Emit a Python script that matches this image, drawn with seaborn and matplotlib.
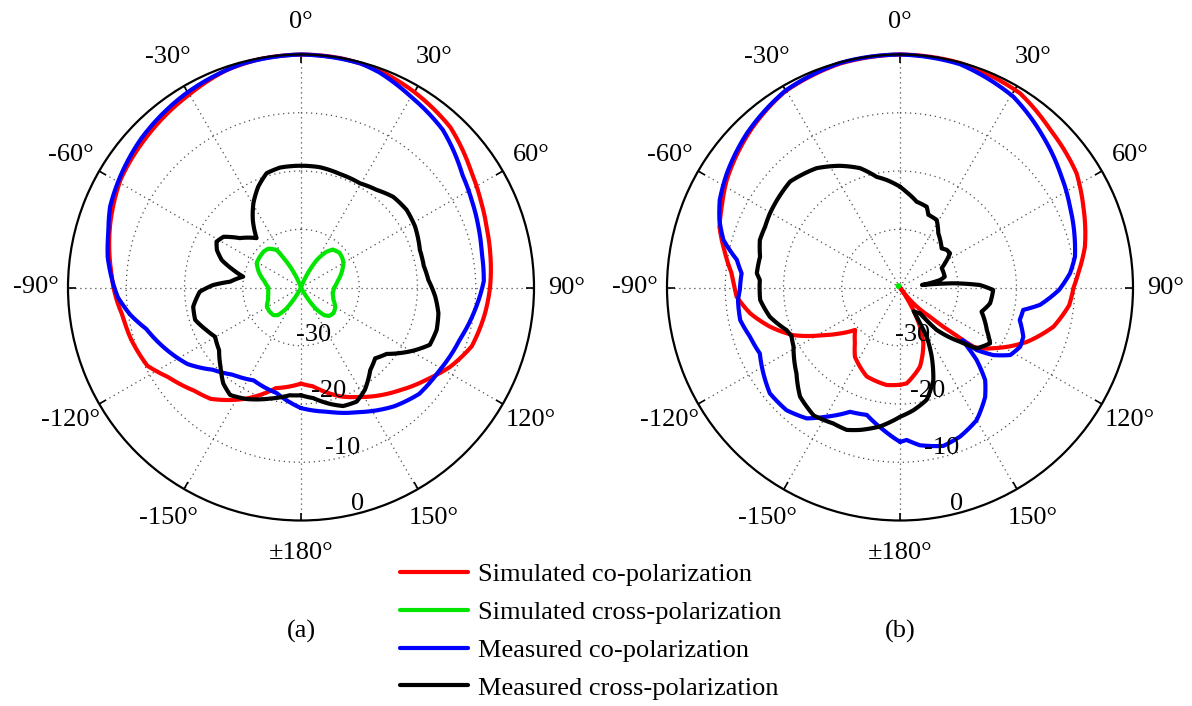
import numpy as np
import matplotlib
matplotlib.use("Agg")
import matplotlib.pyplot as plt
from matplotlib.lines import Line2D
import seaborn as sns

# ---------------------------------------------------------------------------
# Radiation patterns (angle in degrees, clockwise from broadside; level in dB)
# ---------------------------------------------------------------------------

# (a) simulated co-polarization
a_sim_co_deg = [-180, -166, -154, -141, -134, -124, -117, -107, -99, -94, -90, -86, -80,
                -71, -59, -46, -31, -19, -10, 0, 10, 20, 30, 43, 56, 64, 72, 80, 90,
                98, 109, 118, 126, 136, 152, 160, 173, 180]
a_sim_co_db = [-23.5, -22.2, -18.8, -15.4, -14.5, -12.5, -10.4, -9.5, -9.0, -8.3, -7.8,
               -7.4, -6.6, -5.4, -3.9, -3.0, -1.8, -0.55, -0.15, 0.0, -0.05, -0.4, -1.2,
               -2.4, -4.7, -5.7, -6.5, -7.0, -7.55, -8.1, -9.0, -11.0, -13.2, -15.5,
               -18.7, -20.1, -22.9, -23.5]

# (a) simulated cross-polarization
a_sim_x_deg = [-180, -153, -150, -145, -140, -135, -127, -119, -110, -100, -90, -80, -70,
               -61, -55, -46, -40, -33, -30, -25, -21, 0, 21, 25, 30, 35, 40, 48, 55,
               60, 70, 80, 90, 100, 110, 120, 128, 135, 140, 145, 150, 153, 180]
a_sim_x_db = [-40, -40, -38.5, -35.5, -33.8, -33.3, -33.2, -33.3, -34.0, -34.3, -34.4,
              -33.6, -32.3, -31.3, -31.2, -31.1, -31.3, -32.3, -34.5, -37.5, -40, -40,
              -40, -37.5, -34.5, -32.6, -31.5, -31.1, -31.3, -31.6, -32.6, -33.6, -34.3,
              -34.5, -34.1, -33.2, -32.9, -33.1, -33.8, -35.5, -38.5, -40, -40]

# (a) measured co-polarization
a_meas_co_deg = [-180, -167, -153, -142, -133, -124, -115, -105, -99, -93, -88, -81, -74,
                 -67, -47, -31, -15, 0, 15, 20, 30, 42, 55, 63, 71, 79, 88, 96, 108,
                 121, 132, 142, 155, 168, 180]
a_meas_co_db = [-19.3, -21.4, -22.1, -21.0, -19.3, -16.5, -14.6, -12.5, -10.3, -8.5,
                -7.6, -6.4, -5.6, -4.4, -2.5, -1.3, -0.3, 0.0, -0.2, -0.7, -2.2, -3.6,
                -6.2, -7.1, -7.8, -8.4, -8.6, -9.7, -11.3, -12.3, -12.7, -14.1, -16.4,
                -18.2, -19.3]

# (a) measured cross-polarization
a_meas_x_deg = [-180, -174, -164.4, -154, -146.6, -141, -134.6, -127.4, -119.8, -114.3,
                -107, -100.1, -92.4, -88.4, -85.3, -79.4, -75.5, -70.9, -66, -61.5,
                -56.8, -51.1, -42, -35.6, -29.5, -23, -16.7, -9.9, 0, 9, 19, 29.5,
                37.8, 45.5, 53.7, 61.9, 72.5, 80, 86.6, 93.9, 100.6, 107.4, 114,
                119.4, 127.8, 133.7, 140, 148, 154, 160.4, 166, 173.7, 180]
a_meas_x_db = [-21.5, -21.4, -20.2, -18.7, -17.9, -18.8, -20.6, -22.3, -23.0, -22.2,
               -21.0, -21.2, -22.6, -24.9, -27.8, -29.9, -28.0, -25.6, -24.2, -23.5,
               -24.1, -26.5, -28.6, -25.8, -23.4, -21.2, -19.5, -19.1, -19.1, -19.1,
               -19.4, -19.45, -18.8, -17.8, -17.5, -17.8, -18.6, -18.6, -18.1, -16.9,
               -16.0, -15.6, -15.8, -17.9, -21.4, -22.4, -21.5, -19.3, -18.2, -18.4,
               -19.4, -20.9, -21.5]

# (b) simulated co-polarization
b_sim_co_deg = [-180, -172.2, -159.5, -147, -141, -133.4, -127.4, -121.8, -114, -106.8,
                -99.8, -93.2, -90, -85.2, -78.9, -71.4, -65.6, -58.2, -42.4, -30.6, -15,
                0, 15, 31.7, 43.6, 57.1, 66.2, 77.6, 85.4, 90, 96, 104.3, 113.2, 123.1,
                127.2, 128.9, 130.7, 134.2, 139.9, 145, 149.4, 153, 157.3, 165.8, 176,
                180]
b_sim_co_db = [-23.3, -23.1, -23.7, -25.8, -27.7, -29.4, -27.0, -24.5, -19.9, -16.7,
               -13.9, -11.9, -11.6, -11.0, -9.4, -7.3, -6.4, -5.0, -2.6, -1.0, -0.2,
               0.0, -0.1, -0.8, -2.6, -3.9, -5.6, -7.5, -9.3, -10.2, -10.8, -12.8,
               -16.3, -20.9, -22.7, -23.8, -27.9, -32.8, -36.4, -40, -35.5, -32.4,
               -29.6, -26.0, -23.5, -23.3]

# (b) simulated cross-polarization (below the -40 dB floor almost everywhere)
b_sim_x_deg = [-75, -60, -45, -30, -15]
b_sim_x_db = [-39.7, -39.55, -39.5, -39.55, -39.7]

# (b) measured co-polarization
b_meas_co_deg = [-180, -173.3, -165.4, -158.1, -150.4, -144.5, -137.2, -129.1, -122.1,
                 -115.2, -108.2, -101.5, -94.4, -90.9, -84.9, -80.4, -74.9, -69.5,
                 -64.1, -56.6, -44.8, -30.2, -15, 0, 15, 30.7, 43.5, 54.5, 64.6, 74.8,
                 80, 85.2, 90.9, 97.1, 100.3, 105.2, 111.8, 116.3, 121.5, 125.9, 129.2,
                 130.2, 133.4, 137.4, 142.1, 150, 158.1, 164.7, 172.8, 177.5, 180]
b_meas_co_db = [-13.5, -15.4, -17.4, -17.0, -14.5, -12.4, -11.3, -11.2, -12.3, -13.4,
                -12.9, -12.0, -12.1, -12.5, -12.7, -11.6, -8.6, -6.9, -5.6, -4.4, -2.7,
                -0.9, -0.1, 0.0, -0.3, -1.9, -4.3, -6.2, -7.7, -8.9, -9.5, -10.7, -12.7,
                -15.8, -18.5, -18.7, -17.2, -17.0, -17.8, -20.2, -23.0, -26.0, -21.9,
                -18.4, -16.2, -13.7, -12.4, -11.8, -12.7, -13.8, -13.5]

# (b) measured cross-polarization, traced clockwise from 0 to 360 degrees
b_meas_x_deg = [0, 4, 11, 18.3, 21.3, 28.5, 35.2, 40.1, 46.8, 51.2, 55.6, 60, 65, 76.5,
                79.4, 83.5, 85.5, 88.2, 91.5, 100, 106.5, 116.1, 121.8, 128.4, 132.1,
                139.2, 142.2, 150, 151.5, 155.4, 160.2, 166.6, 173.8, 180, 188.2, 195.7,
                200.5, 206.2, 214, 222.5, 230.3, 241, 246, 249.4, 257.3, 264.9, 273.1,
                275.7, 282.4, 288.7, 294.2, 299.7, 302.5, 314, 325, 333.7, 341.5, 348.1,
                352.9, 360]
b_meas_x_db = [-22.7, -23.6, -25.0, -25.4, -26.6, -26.8, -28.6, -29.3, -30.2, -29.7,
               -29.6, -30.8, -32.1, -32.1, -33.0, -36.2, -30.8, -26.3, -24.0, -24.3,
               -25.4, -23.4, -21.8, -23.2, -26.1, -30.4, -34.4, -35.3, -30.4, -26.9,
               -23.1, -20.2, -18.8, -17.8, -15.9, -14.6, -13.9, -14.0, -13.5, -14.6,
               -16.9, -19.1, -19.6, -19.2, -17.1, -15.9, -15.9, -15.3, -15.4, -14.6,
               -14.6, -14.3, -14.2, -13.8, -15.0, -16.7, -18.4, -20.6, -21.4, -22.7]

series_names = ["Simulated co-polarization", "Simulated cross-polarization",
                "Measured co-polarization", "Measured cross-polarization"]
series_colors = ["#ff0000", "#00e600", "#0000ff", "#000000"]

panel_a = [(a_sim_co_deg, a_sim_co_db), (a_sim_x_deg, a_sim_x_db),
           (a_meas_co_deg, a_meas_co_db), (a_meas_x_deg, a_meas_x_db)]
panel_b = [(b_sim_co_deg, b_sim_co_db), (b_sim_x_deg, b_sim_x_db),
           (b_meas_co_deg, b_meas_co_db), (b_meas_x_deg, b_meas_x_db)]

theta_ticks = [0, 30, 60, 90, 120, 150, 180, -150, -120, -90, -60, -30]
theta_labels = ["0°", "30°", "60°", "90°", "120°", "150°", "±180°",
                "-150°", "-120°", "-90°", "-60°", "-30°"]
r_ticks = [-30, -20, -10, 0]
r_labels = ["-30", "-20", "-10", "0"]
panel_tags = ["(a)", "(b)"]

# ---------------------------------------------------------------------------
sns.set_theme(style="white")
plt.rcParams["font.family"] = ["Liberation Serif", "DejaVu Serif"]
plt.rcParams["text.color"] = "black"
plt.rcParams["axes.labelcolor"] = "black"
FS = 19
W, H = 1192, 706

fig = plt.figure(figsize=(W / 100, H / 100), dpi=100)
fig.patch.set_facecolor("white")

R_PX = 233
centers = [(301, 287.5), (900, 287.5)]
axes = []
for cx, cy in centers:
    ax = fig.add_axes([(cx - R_PX) / W, 1 - (cy + R_PX) / H, 2 * R_PX / W, 2 * R_PX / H],
                      projection="polar")
    axes.append(ax)


def draw_panel(ax, curves):
    for (deg, db), color in zip(curves, series_colors):
        sns.lineplot(x=np.deg2rad(np.asarray(deg, dtype=float)), y=np.asarray(db, dtype=float),
                     ax=ax, sort=False, estimator=None, color=color, linewidth=3.0,
                     legend=False)
    for ln in ax.lines:
        ln.set_clip_on(False)
        ln.set_solid_joinstyle("round")
        ln.set_solid_capstyle("round")
        # let the polar transform draw each segment along the angle (arc-like)
        ln.get_path()._interpolation_steps = 24
        ln.recache(always=True)

    ax.set_theta_zero_location("N")
    ax.set_theta_direction(-1)
    ax.set_rlim(-40, 0)
    ax.set_yticks([-30, -20, -10])
    ax.set_yticklabels([])
    ax.set_xticks(np.deg2rad(np.arange(0, 360, 30)))
    ax.set_xticklabels([])
    ax.set_xlabel("")
    ax.set_ylabel("")
    ax.grid(True, color="0.3", linestyle=(0, (1, 3)), linewidth=0.9)
    ax.set_facecolor("white")
    ax.spines["polar"].set_linewidth(1.6)
    ax.spines["polar"].set_color("black")
    # theta tick marks on the outer circle, pointing inward
    ax.tick_params(axis="x", which="major", bottom=False, top=True, direction="in",
                   length=6, width=1.2, colors="black", pad=0,
                   labelbottom=False, labeltop=False)
    ax.tick_params(axis="y", left=False, right=False)

    for ang, lab in zip(theta_ticks, theta_labels):
        ax.text(np.deg2rad(ang), 5.6, lab, ha="center", va="center", fontsize=FS,
                color="black", clip_on=False)
    for val, lab in zip(r_ticks, r_labels):
        ax.text(np.deg2rad(165.3), val - 1.6, lab, ha="center", va="center",
                fontsize=FS, color="black", clip_on=False, zorder=10)


draw_panel(axes[0], panel_a)
draw_panel(axes[1], panel_b)

for (cx, _), tag in zip(centers, panel_tags):
    fig.text(cx / W, 1 - 631 / H, tag, ha="center", va="center", fontsize=FS,
             color="black")

handles = [Line2D([], [], color=c, linewidth=3.0) for c in series_colors]
leg = fig.legend(handles, series_names, loc="upper left",
                 bbox_to_anchor=(400 / W, 1 - 563 / H), frameon=False, fontsize=FS,
                 handlelength=2.58, handletextpad=0.38, labelspacing=0.54,
                 borderpad=0, borderaxespad=0)
for t in leg.get_texts():
    t.set_color("black")

fig.savefig("out.png", dpi=100, facecolor="white")
